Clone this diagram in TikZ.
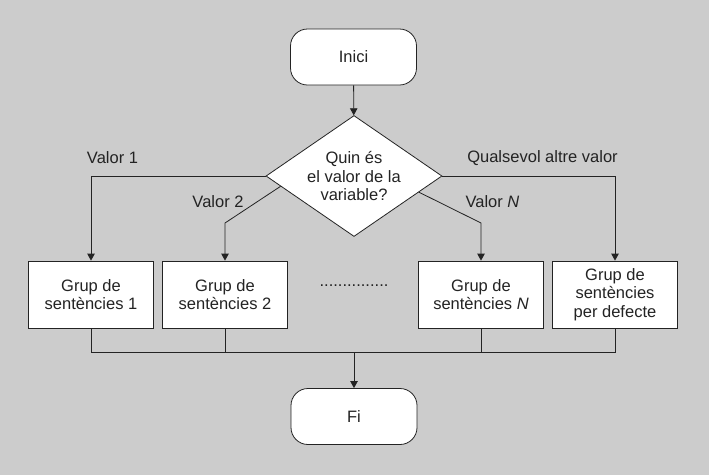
\documentclass[tikz,border=0pt]{standalone}
\usepackage{amsmath}
\usepackage{fontspec}
\setmainfont{Liberation Sans}
\usetikzlibrary{shapes.geometric,arrows.meta}

\definecolor{fons}{RGB}{204,204,204}
\definecolor{traç}{RGB}{35,35,35}

\begin{document}
\begin{tikzpicture}[x=1pt,y=1pt,yscale=-1,xscale=1,
  every node/.style={text=traç,font=\fontsize{16.5}{18.5}\selectfont},
  terminal/.style={draw=traç,line width=0.8pt,fill=white,rounded corners=17pt,minimum width=126pt,minimum height=56pt},
  proces/.style={draw=traç,line width=0.8pt,fill=white,align=center,minimum width=125pt,minimum height=67pt,inner sep=0pt},
  decisio/.style={draw=traç,line width=0.8pt,fill=white,diamond,aspect=1.45,align=center,minimum width=176pt,minimum height=121pt,inner sep=0pt},
  fletxa/.style={draw=traç,line width=0.8pt,-{Triangle[length=7pt,width=7.5pt]}},
  linia/.style={draw=traç,line width=0.8pt}]
%set diagram size to 709 x 475
\path [fill=fons] (0,0) rectangle (709,475);

%Shape: Terminal
\node [terminal] (inici) at (353.5,57) {Inici};
%Shape: Diamond
\node [decisio] (dec) at (354,176) {Quin és\\el valor de la\\variable?};
%Shape: Rectangles
\node [proces] (grup1) at (91,294.5) {Grup de\\sentències 1};
\node [proces] (grup2) at (225,294.5) {Grup de\\sentències 2};
\node [proces] (grupN) at (481,294.5) {Grup de\\sentències \textit{N}};
\node [proces] (grupdef) at (615,294.5) {Grup de\\sentències\\per defecte};
%Shape: Terminal
\node [terminal] (fi) at (354,416.5) {Fi};

%Bends
\coordinate (colze2) at (225,223);
\coordinate (colzeN) at (481,223);
\coordinate (unio) at (354,352.5);

%Straight Lines
\draw [fletxa] (inici) -- (dec);
\draw [fletxa] (dec.west) -| (grup1.north);
\draw [fletxa] (dec.188) -- (colze2) -- (grup2.north);
\draw [fletxa] (dec.-14) -- (colzeN) -- (grupN.north);
\draw [fletxa] (dec.east) -| (grupdef.north);
\draw [linia] (grup1.south) |- (unio) -| (grupdef.south);
\draw [linia] (grup2.south) -- (grup2.south |- unio);
\draw [linia] (grupN.south) -- (grupN.south |- unio);
\draw [fletxa] (unio) -- (fi);

% Text Node
\node (v1) at (112.5,158) {Valor 1};
% Text Node
\node (v2) at (218,202) {Valor 2};
% Text Node
\node (vN) at (492.5,202) {Valor \textit{N}};
% Text Node
\node (valtre) at (542.5,158) {Qualsevol altre valor};
% Text Node
\node (punts) at (354,286) {...............};

\end{tikzpicture}
\end{document}
